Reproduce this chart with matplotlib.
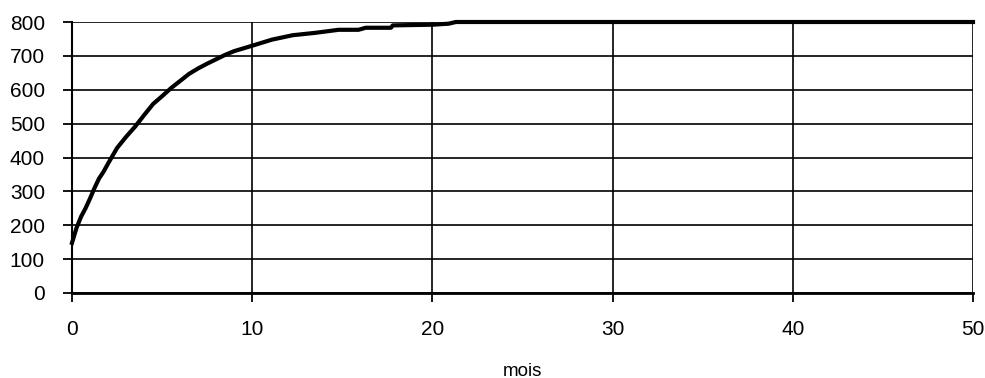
import matplotlib
matplotlib.use("Agg")
import matplotlib.pyplot as plt

plt.rcParams["font.family"] = ["Liberation Sans", "DejaVu Sans"]

# Months and the corresponding values of the curve
mois = [0, 0.25, 0.5, 0.75, 1.0, 1.25, 1.5, 1.75, 2.0, 2.5, 3.0, 3.5, 4.0,
        4.5, 5.0, 5.5, 6.0, 6.5, 7.0, 7.5, 8.0, 8.5, 9.0, 9.5, 10.0, 11.1,
        12.25, 13.5, 14.8, 15.9, 16.3, 17.7, 17.8, 20.0, 20.9, 21.3, 22.0,
        30.0, 40.0, 50.0]
valeurs = [148, 192, 225, 250, 279, 310, 338, 358, 382, 428, 461, 491, 525,
           558, 581, 605, 626, 647, 663, 677, 690, 703, 714, 722, 730, 748,
           761, 768, 777, 777, 783, 783, 790, 792, 795, 800, 800,
           800, 800, 800]

xticks = [0, 10, 20, 30, 40, 50]
yticks = [0, 100, 200, 300, 400, 500, 600, 700, 800]

fig = plt.figure(figsize=(9.85, 3.78), dpi=100)
ax = fig.add_axes([72 / 985, 1 - 293 / 378, (973 - 72) / 985, (293 - 22) / 378])

ax.plot(mois, valeurs, color="black", lw=3.0, clip_on=False, zorder=3,
        solid_joinstyle="round")

ax.set_xlim(0, 50)
ax.set_ylim(0, 800)
ax.set_xticks(xticks)
ax.set_yticks(yticks)
ax.grid(True, color="black", lw=1.2)
ax.set_axisbelow(True)

for side in ("top", "right"):
    ax.spines[side].set_visible(False)
ax.spines["left"].set_linewidth(1.5)
ax.spines["bottom"].set_linewidth(2.0)

ax.tick_params(axis="both", direction="out", length=6.5, width=1.3,
               colors="black", labelsize=15)
ax.tick_params(axis="y", pad=13)
ax.tick_params(axis="x", pad=13)

ax.set_xlabel("mois", fontsize=13.5, va="center")
ax.xaxis.set_label_coords(0.5, (293 - 371) / 271)

fig.savefig("out.png", dpi=100)
